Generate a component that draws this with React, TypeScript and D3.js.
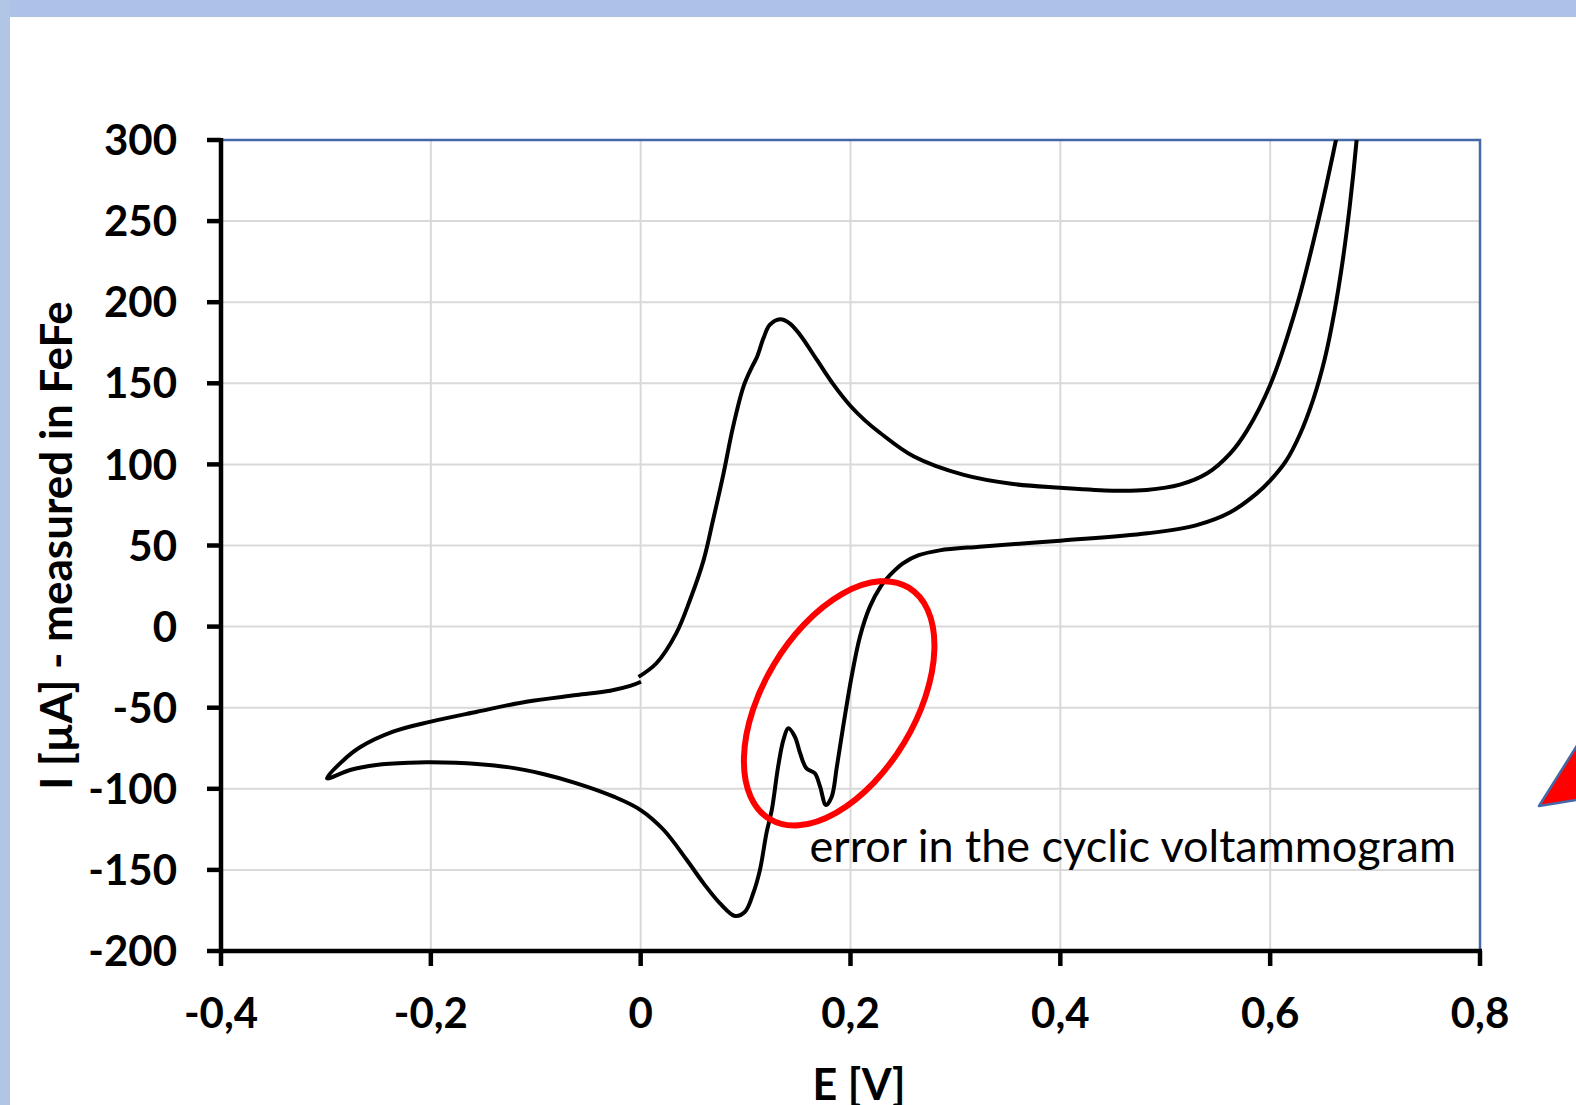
import React from "react"
import * as d3 from "d3"

// cyclic voltammogram, E [V] vs I [µA] in sweep order
const sweepE = [
  -0.002, 0.015, 0.034, 0.047, 0.06, 0.069, 0.079, 0.088, 0.098, 0.106, 0.111, 0.117, 0.123, 0.133, 0.142,
  0.152, 0.168, 0.184, 0.2, 0.214, 0.228, 0.26, 0.308, 0.355, 0.4, 0.45, 0.482, 0.514, 0.54, 0.562, 0.578, 0.6,
  0.625, 0.644, 0.6545, 0.6627, 0.6705, 0.6855,
  0.6824, 0.676, 0.669, 0.6615, 0.652, 0.641, 0.628, 0.615, 0.6, 0.587, 0.562, 0.53, 0.483, 0.4, 0.323, 0.285,
  0.265, 0.25, 0.238, 0.229, 0.2185, 0.209, 0.201, 0.193, 0.187, 0.182, 0.1766, 0.171, 0.166, 0.158, 0.152, 0.147,
  0.1407, 0.136, 0.131, 0.125, 0.12, 0.1137, 0.1073, 0.0994, 0.09, 0.0756, 0.06, 0.044, 0.022, 0.0, -0.025,
  -0.061, -0.093, -0.125, -0.156, -0.2, -0.22, -0.252, -0.277, -0.299,
  -0.283, -0.2675, -0.236, -0.2, -0.156, -0.109, -0.061, -0.029, -0.01, 0.0003,
]
const sweepI = [
  -31, -22.6, -4, 16.4, 41, 65.7, 94.5, 123, 148, 160, 166.4, 177.7, 186, 189.5, 187,
  179.8, 164.4, 149, 136, 127, 119.5, 105, 93.5, 87.9, 85.6, 83.8, 84.2, 87.5, 94.5, 106.8, 121, 149,
  197, 245, 275, 300, 325, 325,
  300, 260, 225, 195, 165, 140, 118, 102, 90, 82, 70.5, 62.6, 57.5, 53, 49.3, 47,
  44, 39, 32, 25, 12.3, -6.2, -31, -61.7, -86.4, -105, -110, -98.7, -90.4, -87.4, -78.1, -67.9,
  -62.7, -70, -86.4, -113, -127, -150, -164.4, -175.8, -178.4, -170.6, -158.3, -143.9, -125.4, -113.1, -105,
  -96.6, -90.9, -86.8, -84.7, -83.7, -83.9, -85.3, -88.4, -93.5,
  -82.2, -74.4, -64.8, -58.6, -52.5, -46.3, -42.2, -39.5, -36.6, -34,
]

const xTicks = [-0.4, -0.2, 0, 0.2, 0.4, 0.6, 0.8]
const yTicks = [-200, -150, -100, -50, 0, 50, 100, 150, 200, 250, 300]

const xTitle = "E [V]"
const yTitle = "I [µA] - measured in FeFe"
const note = "error in the cyclic voltammogram"
const noteAt = [0.161, -145]
const ringAt = [0.1892, -47.3]

const W = 1576
const H = 1105
const plot = { left: 221, right: 1480, top: 140, bottom: 951 }
const font = "Lato, 'Open Sans', sans-serif"

const fmt = d3.formatLocale({ decimal: ",", thousands: ".", grouping: [3], currency: ["", ""], minus: "-" }).format("")

export default function App() {
  const x = d3.scaleLinear().domain([-0.4, 0.8]).range([plot.left, plot.right])
  const y = d3.scaleLinear().domain([-200, 300]).range([plot.bottom, plot.top])

  const pts = sweepE.map((e, i) => [e, sweepI[i]] as [number, number])
  const line = d3.line<[number, number]>()
    .x(d => x(d[0]))
    .y(d => y(d[1]))
    .curve(d3.curveCatmullRom.alpha(0.5))

  return (
    <svg width={W} height={H} style={{ position: "absolute", left: 0, top: 0, background: "#fff" }} fontFamily={font}>
      <defs>
        <clipPath id="plotclip">
          <rect x={plot.left} y={plot.top} width={plot.right - plot.left} height={plot.bottom - plot.top} />
        </clipPath>
      </defs>
      <rect x={0} y={0} width={W} height={17} fill="#adc2e6" />
      <rect x={0} y={0} width={10} height={H} fill="#b1c5e7" />

      {/* grid */}
      {xTicks.slice(1, -1).map(t => (
        <line key={"gx" + t} x1={x(t)} x2={x(t)} y1={plot.top} y2={plot.bottom} stroke="#d9d9d9" strokeWidth={2} />
      ))}
      {yTicks.slice(1, -1).map(t => (
        <line key={"gy" + t} x1={plot.left} x2={plot.right} y1={y(t)} y2={y(t)} stroke="#d9d9d9" strokeWidth={2} />
      ))}

      {/* top / right frame */}
      <path d={`M${plot.left},${plot.top}H${plot.right}V${plot.bottom}`} fill="none" stroke="#4468a8" strokeWidth={2.5} />

      <path d={line(pts) || ""} fill="none" stroke="#000" strokeWidth={4} strokeLinejoin="round" clipPath="url(#plotclip)" />

      {/* axes */}
      <line x1={plot.left} x2={plot.left} y1={plot.top - 2} y2={plot.bottom + 2} stroke="#000" strokeWidth={4.5} />
      <line x1={plot.left - 2} x2={plot.right + 2} y1={plot.bottom} y2={plot.bottom} stroke="#000" strokeWidth={4.5} />
      {yTicks.map(t => (
        <g key={"ty" + t}>
          <line x1={plot.left - 14} x2={plot.left} y1={y(t)} y2={y(t)} stroke="#000" strokeWidth={4.5} />
          <text x={177} y={y(t)} dy="0.36em" textAnchor="end" fontSize={42} fontWeight="bold">{fmt(t)}</text>
        </g>
      ))}
      {xTicks.map(t => (
        <g key={"tx" + t}>
          <line x1={x(t)} x2={x(t)} y1={plot.bottom} y2={plot.bottom + 15} stroke="#000" strokeWidth={4.5} />
          <text x={x(t)} y={1028} textAnchor="middle" fontSize={42} fontWeight="bold">{fmt(t)}</text>
        </g>
      ))}

      <text x={859} y={1100} textAnchor="middle" fontSize={43} fontWeight="bold">{xTitle}</text>
      <text transform={`translate(72,${(plot.top + plot.bottom) / 2}) rotate(-90)`} textAnchor="middle" fontSize={44} fontWeight="bold">{yTitle}</text>

      {/* annotation */}
      <ellipse cx={0} cy={0} rx={135} ry={76} fill="none" stroke="#ff0000" strokeWidth={6}
        transform={`translate(${x(ringAt[0])},${y(ringAt[1])}) rotate(-59)`} />
      <text x={x(noteAt[0])} y={y(noteAt[1])} fontSize={45} fill="#000">{note}</text>

      <path d="M1539,806L1600,709L1600,796Z" fill="#ff0000" stroke="#4468a8" strokeWidth={2.5} strokeLinejoin="round" />
    </svg>
  )
}
